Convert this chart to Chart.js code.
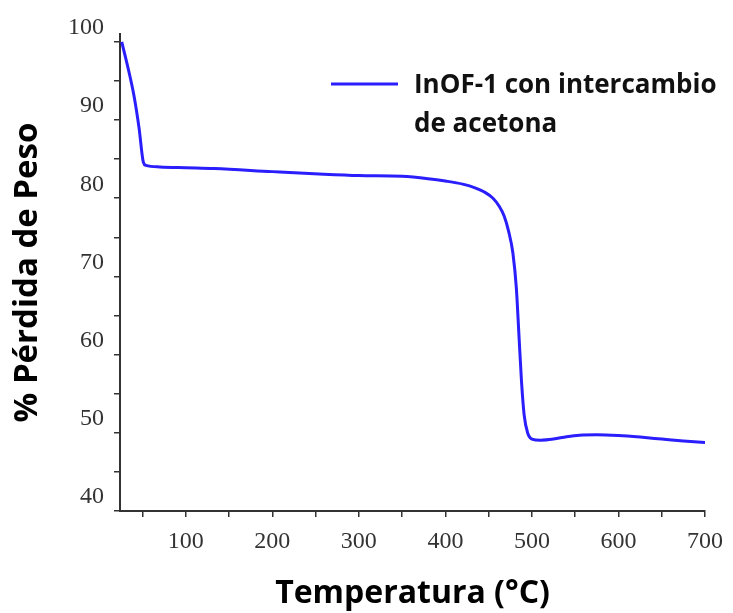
<!DOCTYPE html>
<html>
<head>
<meta charset="utf-8">
<script src="https://cdn.jsdelivr.net/npm/chart.js@4"></script>
<style>
  html, body { margin: 0; padding: 0; background: #fff; }
  #wrap { width: 733px; height: 613px; }
</style>
</head>
<body>
<div id="wrap"><canvas id="tgaChart" width="733" height="613"></canvas></div>
<script>
// TGA curve: temperature (°C) vs weight (%)
const temperature = [26, 33, 40, 46, 51, 54, 70, 100, 133, 200, 254, 300, 350, 380, 400, 420, 435, 445, 455, 462, 468, 473, 478, 482, 485, 488, 491, 495, 500, 510, 525, 540, 555, 575, 600, 625, 650, 675, 700];
const weight = [100.0, 96.8, 93.2, 89.0, 84.6, 84.2, 84.0, 83.9, 83.8, 83.4, 83.1, 82.9, 82.8, 82.5, 82.2, 81.8, 81.3, 80.8, 80.0, 79.0, 77.7, 75.8, 73.0, 68.5, 62.5, 56.5, 52.3, 50.0, 49.2, 49.05, 49.2, 49.5, 49.7, 49.75, 49.65, 49.45, 49.2, 48.95, 48.75];

const seriesName = ['InOF-1 con intercambio', 'de acetona'];
const xTickValues = [50, 100, 150, 200, 250, 300, 350, 400, 450, 500, 550, 600, 650, 700];
const yTickValues = [40, 45, 50, 55, 60, 65, 70, 75, 80, 85, 90, 95, 100];

const lineColor = '#2a1efc';
const axisColor = '#333';

// legend drawn inside the plot, two text lines
const insideLegend = {
  id: 'insideLegend',
  afterDraw(chart) {
    const ctx = chart.ctx;
    ctx.save();
    ctx.strokeStyle = lineColor;
    ctx.lineWidth = 3;
    ctx.beginPath();
    ctx.moveTo(331, 84);
    ctx.lineTo(398, 84);
    ctx.stroke();
    ctx.fillStyle = '#111';
    ctx.font = 'bold 26px "Open Sans"';
    ctx.textBaseline = 'alphabetic';
    ctx.fillText(seriesName[0], 414, 93);
    ctx.fillText(seriesName[1], 414, 132);
    ctx.restore();
  }
};

const ctx = document.getElementById('tgaChart').getContext('2d');
new Chart(ctx, {
  type: 'line',
  data: {
    datasets: [{
      label: seriesName.join(' '),
      data: temperature.map((t, i) => ({ x: t, y: weight[i] })),
      borderColor: lineColor,
      borderWidth: 3,
      pointRadius: 0,
      cubicInterpolationMode: 'monotone',
      fill: false
    }]
  },
  options: {
    responsive: false,
    animation: false,
    layout: { padding: { top: 34, right: 22, left: 0, bottom: 0 } },
    plugins: {
      legend: { display: false },
      tooltip: { enabled: false }
    },
    scales: {
      x: {
        type: 'linear',
        min: 24,
        max: 700,
        afterBuildTicks: s => { s.ticks = xTickValues.map(v => ({ value: v })); },
        afterFit: s => { s.height = 102; },
        ticks: {
          autoSkip: false,
          maxRotation: 0,
          padding: 10,
          color: '#333',
          font: { family: 'Liberation Serif', size: 24 },
          callback: v => (v % 100 === 0 ? v : '')
        },
        grid: { drawOnChartArea: false, tickLength: 6, color: axisColor, lineWidth: 1.5 },
        border: { color: axisColor, width: 2 },
        title: {
          display: true,
          text: 'Temperatura (°C)',
          color: '#000',
          font: { family: 'Open Sans', size: 32, weight: 'bold' },
          padding: { top: 0, bottom: 0 }
        }
      },
      y: {
        min: 40,
        max: 101,
        afterBuildTicks: s => { s.ticks = yTickValues.map(v => ({ value: v })); },
        afterFit: s => { s.width = 120; },
        ticks: {
          autoSkip: false,
          padding: 10,
          labelOffset: -14,
          color: '#333',
          font: { family: 'Liberation Serif', size: 24 },
          callback: v => (v % 10 === 0 ? v : '')
        },
        grid: { drawOnChartArea: false, tickLength: 6, color: axisColor, lineWidth: 1.5 },
        border: { color: axisColor, width: 2 },
        title: {
          display: true,
          text: '% Pérdida de Peso',
          color: '#000',
          font: { family: 'Open Sans', size: 33, weight: 'bold' },
          padding: { top: 8, bottom: 0 }
        }
      }
    }
  },
  plugins: [insideLegend]
});
</script>
</body>
</html>
